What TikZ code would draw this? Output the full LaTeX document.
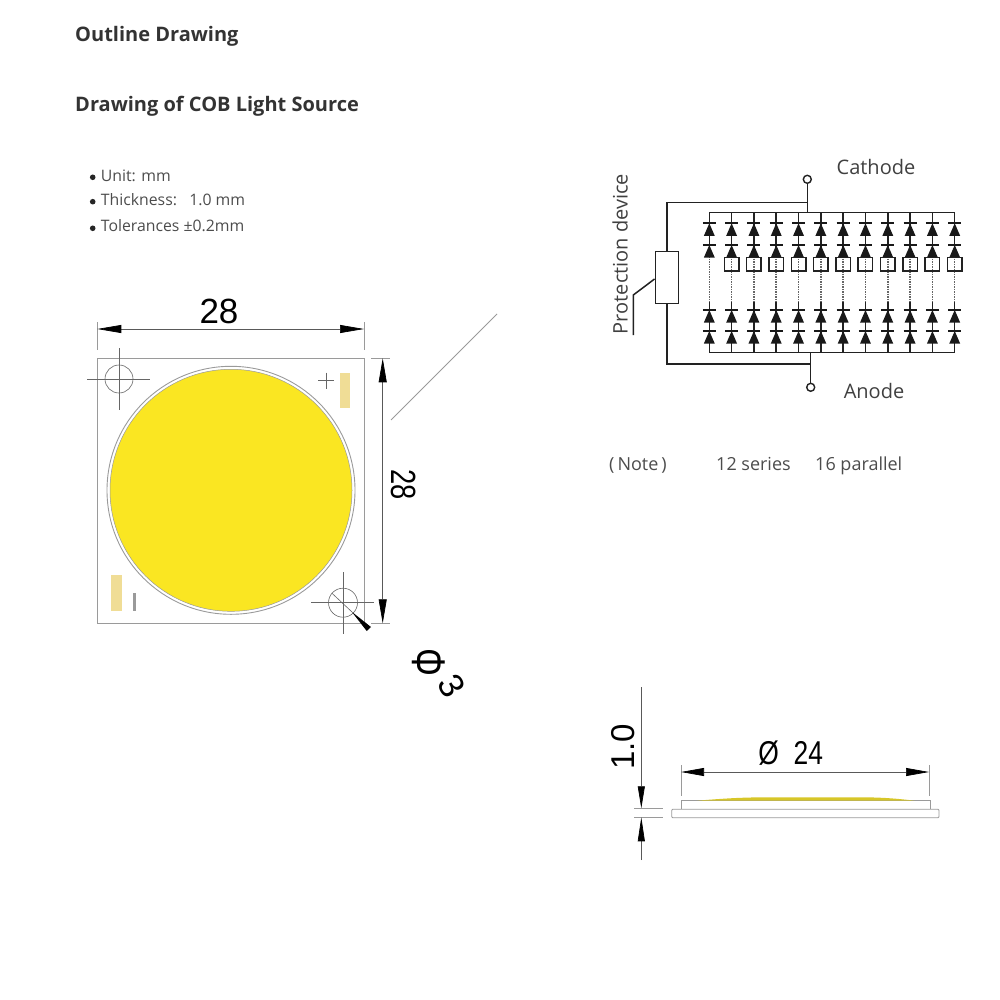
\documentclass[tikz,border=0pt]{standalone}
\usepackage{fontspec}
\setmainfont{Open Sans}
\newfontfamily\dimfont{Liberation Sans}
\usetikzlibrary{arrows.meta}

\definecolor{ledyellow}{HTML}{FAE622}
\definecolor{padtan}{HTML}{F0DD96}
\definecolor{edgegray}{HTML}{9A9A9A}
\definecolor{wiregray}{HTML}{222222}

\tikzset{
  title/.style={anchor=base west, font=\fontsize{20}{24}\selectfont\bfseries, text=black!80, inner sep=0pt},
  spec/.style={anchor=base west, font=\fontsize{15.8}{18}\selectfont, text=black!70, inner sep=0pt},
  label/.style={font=\fontsize{20}{24}\selectfont, text=black!75, inner sep=0pt},
  note/.style={anchor=base west, font=\fontsize{18}{20}\selectfont, text=black!70, inner sep=0pt},
  dimtext/.style={font=\dimfont\fontsize{35}{40}\selectfont, inner sep=0pt},
  thin gray/.style={draw=edgegray, line width=0.9pt},
  dimline/.style={draw=black!65, line width=0.7pt, {Triangle[length=24pt,width=8pt,black]}-{Triangle[length=24pt,width=8pt,black]}},
  wire/.style={draw=wiregray, line width=1.5pt},
  term/.style={circle, draw=wiregray, fill=white, line width=1.4pt, minimum size=8pt, inner sep=0pt},
  diode/.pic={
    \fill[black!90] (-5.5,12.7) -- (5.5,12.7) -- (0,0) -- cycle;
    \draw[black!90, line width=2.2pt] (-6.5,0) -- (6.5,0);
  }
}

\begin{document}
\begin{tikzpicture}[x=1pt, y=-1pt]
\useasboundingbox (0,0) rectangle (1000,1000);

% headings
\node[title] (outline) at (75,41.7) {Outline Drawing};
\node[title] (cobtitle) at (75,111.7) {Drawing of COB Light Source};

\fill[black!85] (92.7,177.3) circle (2.8pt);
\fill[black!85] (92.7,201.7) circle (2.8pt);
\fill[black!85] (92.7,228.3) circle (2.8pt);
\node[spec] (unit) at (100.7,181.7) {Unit: mm};
\node[spec] (thick) at (100.7,205.7) {Thickness:\ \ \ 1.0 mm};
\node[spec] (toler) at (100.7,231.7) {Tolerances ±0.2mm};

% chip, top view
\draw[thin gray] (97.3,358.3) rectangle (364,623.3);
\draw[thin gray] (231,490.3) circle (124);
\fill[ledyellow] (231,490.3) circle (121);
\draw[edgegray, line width=0.5pt] (231,490.3) circle (121);

\fill[padtan] (340,372.7) rectangle (350,407.7);
\fill[padtan] (110.7,575) rectangle (121.7,610.7);
\draw[black!60, line width=1pt] (318,380.7) -- (334,380.7) (326,372.7) -- (326,388.7);
\fill[edgegray] (132.7,592.7) rectangle (136,611);

\draw[black!60, line width=0.6pt] (119,379) circle (14);
\draw[black!60, line width=0.6pt] (87,379) -- (150,379) (119,348) -- (119,410);
\draw[black!60, line width=0.6pt] (343,602.7) circle (14.5);
\draw[black!60, line width=0.6pt] (311,602.7) -- (374,602.7) (343,572) -- (343,634);
\draw[black!60, line width=0.6pt] (331.7,593) -- (352,612);
\fill[black] (351.7,611.7) -- (371,627) -- (366.7,631) -- cycle;

% dimensions of the chip
\coordinate (wl) at (97.3,329);
\coordinate (wr) at (364,329);
\coordinate (ht) at (382.7,358.3);
\coordinate (hb) at (382.7,623.3);
\draw[thin gray, line width=0.6pt] (97.3,322) -- (97.3,350) (364,322) -- (364,350);
\draw[thin gray, line width=0.6pt] (371,358.3) -- (390,358.3) (371,623.3) -- (390,623.3);
\draw[dimline] (wl) -- (wr);
\draw[dimline] (ht) -- (hb);
\node[dimtext] (w28) at (219,311) {28};
\node[dimtext, rotate=-90, xscale=0.78] (h28) at (404,484.6) {28};
\node[dimtext, rotate=-90, yscale=1.35] (phi) at (429,662) {Φ};
\node[dimtext, rotate=-60] (three) at (452,686) {3};
\draw[edgegray, line width=0.8pt] (391,420) -- (497,314);

% circuit
\node[term] (cathode) at (807.3,179.3) {};
\node[term] (anode) at (810.7,387.3) {};
\node[draw=wiregray, line width=1.5pt, fill=white, minimum width=23pt, minimum height=51.6pt, inner sep=0pt] (protect) at (666.8,277.5) {};
\coordinate (catht) at (807.3,212.7);
\coordinate (cathj) at (807.3,202.7);
\coordinate (anodb) at (810.7,352.7);
\coordinate (anodj) at (810.7,364);
\coordinate (leadk) at (633.3,295);
\coordinate (leade) at (633.3,335);

\foreach \i in {0,...,11}{
  \pgfmathsetmacro\colx{709.3+22.31*\i}
  \coordinate (top\i) at (\colx,212.7);
  \coordinate (bot\i) at (\colx,352.7);
  \coordinate (mida\i) at (\colx,256);
  \coordinate (midb\i) at (\colx,302);
  \draw[wire] (top\i) -- (mida\i);
  \draw[wire] (midb\i) -- (bot\i);
  \draw[black!60, line width=1.5pt, densely dotted] (mida\i) -- (midb\i);
  \pic at (\colx,223.3) {diode};
  \pic at (\colx,245) {diode};
  \pic at (\colx,310) {diode};
  \pic at (\colx,331) {diode};
}
\foreach \i in {1,...,11}{
  \pgfmathsetmacro\colx{709.3+22.31*\i}
  \node[draw=wiregray, line width=1.5pt, minimum width=14.5pt, minimum height=13.7pt, inner sep=0pt] (led\i) at (\colx,264.2) {};
}
\draw[wire] (top0) -- (top11);
\draw[wire] (bot0) -- (bot11);
\draw[wire] (cathode) -- (catht);
\draw[wire] (anode) -- (anodb);
\draw[wire] (cathj) -| (protect.north);
\draw[wire] (anodj) -| (protect.south);
\draw[wire] (protect.west |- 0,279) -- (leadk) -- (leade);

\node[label] (cathtext) at (876,167) {Cathode};
\node[label] (anodtext) at (874,391) {Anode};
\node[label, rotate=90] (devtext) at (620,254) {Protection device};

\node[note] (notea) at (609,470) {(\,Note\,)};
\node[note] (noteb) at (716,470) {12 series};
\node[note] (notec) at (815,470) {16 parallel};

% chip, side view
\draw[thin gray, rounded corners=1pt, line width=0.8pt] (671.7,809.3) rectangle (939,817.7);
\draw[thin gray, line width=0.8pt] (681.3,809.3) -- (681.3,800.7) -- (930,800.7) -- (930,809.3);
\fill[ledyellow!85!black!95] (696.7,800.7) .. controls (730,798) and (745,797.3) .. (770,797.3) -- (860,797.3) .. controls (885,797.3) and (900,799) .. (915,800.7) -- cycle;

\coordinate (dl) at (681,772);
\coordinate (dr) at (929,772);
\draw[thin gray, line width=0.6pt] (681,765) -- (681,796) (929,765) -- (929,796);
\draw[dimline, {Triangle[length=23pt,width=8pt,black]}-{Triangle[length=23pt,width=8pt,black]}] (dl) -- (dr);
\node[dimtext, xscale=0.8, font=\dimfont\fontsize{33}{38}\selectfont] (dia) at (790.7,752.7) {Ø\ \ 24};

\coordinate (tt) at (641.3,808.3);
\coordinate (tb) at (641.3,817.3);
\coordinate (tu) at (641.3,687);
\coordinate (td) at (641.3,860);
\draw[thin gray, line width=0.6pt] (634.3,808.3) -- (663.3,808.3) (634.3,817.3) -- (663.3,817.3);
\draw[draw=black!65, line width=0.7pt, -{Triangle[length=22pt,width=7pt,black]}] (tu) -- (tt);
\draw[draw=black!65, line width=0.7pt, -{Triangle[length=24pt,width=7pt,black]}] (td) -- (tb);
\node[dimtext, rotate=90, font=\dimfont\fontsize{33}{38}\selectfont] (thk) at (622.7,746.7) {1.0};

\end{tikzpicture}
\end{document}
